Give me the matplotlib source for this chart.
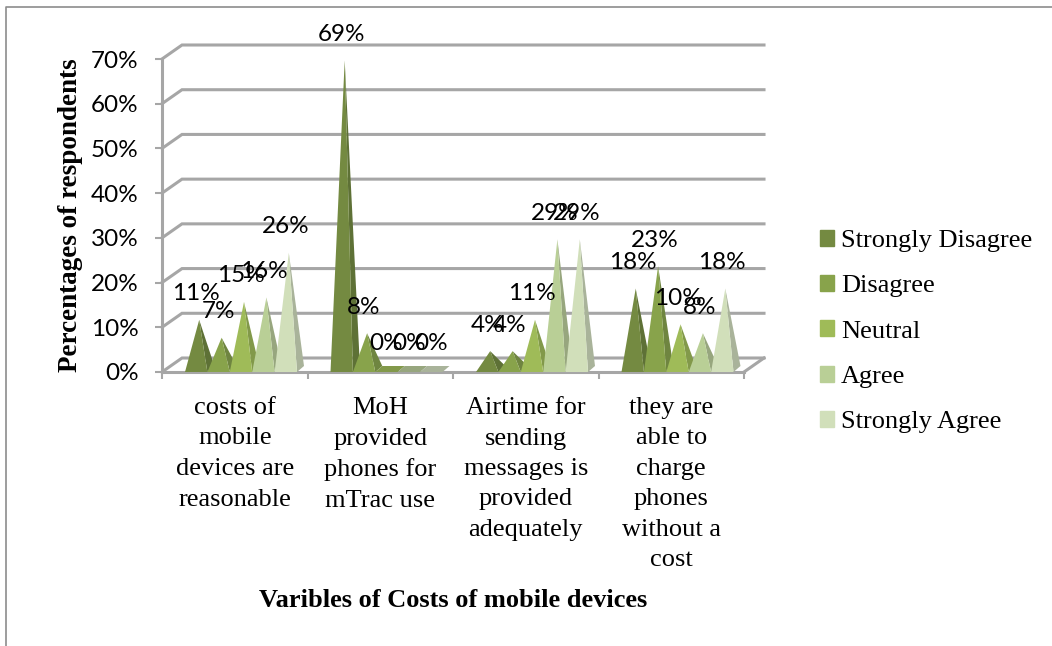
import matplotlib
matplotlib.use("Agg")
import matplotlib.pyplot as plt
from matplotlib.lines import Line2D
from matplotlib.patches import Patch, Polygon
from matplotlib.ticker import PercentFormatter

categories = [
    "costs of\nmobile\ndevices are\nreasonable",
    "MoH\nprovided\nphones for\nmTrac use",
    "Airtime for\nsending\nmessages is\nprovided\nadequately",
    "they are\nable to\ncharge\nphones\nwithout a\ncost",
]
series_names = ["Strongly Disagree", "Disagree", "Neutral", "Agree", "Strongly Agree"]
strongly_disagree = [11, 69, 4, 18]
disagree = [7, 8, 4, 23]
neutral = [15, 0, 11, 10]
agree = [16, 0, 29, 8]
strongly_agree = [26, 0, 29, 18]
series = [strongly_disagree, disagree, neutral, agree, strongly_agree]

colors = ["#748a41", "#88a34b", "#9fbb58", "#b9cf96", "#d1dfba"]
side_colors = ["#5e7136", "#6f8540", "#82994a", "#97a67e", "#a9b39a"]
grid_gray = "#a6a6a6"

fig = plt.figure(figsize=(10.52, 6.46), dpi=100)
ax = fig.add_axes([162 / 1052, (646 - 372) / 646, 582 / 1052, 313 / 646])
ax.set_xlim(0, 4)
ax.set_ylim(0, 70)

# pixel sizes turned into data units
px_x = 4 / 582
px_y = 70 / 313
wall_dx, wall_dy = 20 * px_x, 14 * px_y

# 3D looking walls and floor
for v in range(0, 80, 10):
    ax.plot([0, wall_dx, 4 + wall_dx], [v, v + wall_dy, v + wall_dy],
            color=grid_gray, lw=2.2, clip_on=False, zorder=1, solid_joinstyle="miter")
ax.plot([4 + wall_dx, 4], [wall_dy, 0], color=grid_gray, lw=2.2, clip_on=False, zorder=1)

# spikes
bar_w = 22.4 * px_x
first = 23 * px_x
depth_dx, depth_dy = 7 * px_x, 6 * px_y
for s, values in enumerate(series):
    for c, v in enumerate(values):
        x0 = c + first + s * bar_w
        x1 = x0 + bar_w
        mid = (x0 + x1) / 2
        if v == 0:
            # nothing to point at, only the flat base shows
            ax.add_patch(Polygon([(x0, 0), (x1, 0), (x1 + depth_dx, depth_dy), (x0 + depth_dx, depth_dy)],
                                 color=side_colors[s], lw=0, clip_on=False, zorder=3 + s))
        else:
            top = (mid + 3 * px_x, v + 3 * px_y)
            ax.add_patch(Polygon([(x1, 0), (x1 + depth_dx, depth_dy), top],
                                 color=side_colors[s], lw=0, clip_on=False, zorder=3 + s))
            ax.add_patch(Polygon([(x0, 0), (x1, 0), top],
                                 color=colors[s], lw=0, clip_on=False, zorder=3 + s))
        ax.text(mid, v + 29 * px_y, f"{v}%", ha="center", va="center", fontsize=17.5,
                family="Lato", color="black", clip_on=False, zorder=10)

# axes
for name in ["top", "right"]:
    ax.spines[name].set_visible(False)
for name in ["left", "bottom"]:
    ax.spines[name].set_color(grid_gray)
    ax.spines[name].set_linewidth(2.2)
ax.set_yticks(range(0, 80, 10))
ax.yaxis.set_major_formatter(PercentFormatter(decimals=0))
ax.tick_params(axis="y", length=5, width=1.5, color=grid_gray, pad=12, labelsize=17.5)
for t in ax.get_yticklabels():
    t.set_family("Lato")
ax.set_xticks(range(5))
ax.set_xticklabels([])
ax.tick_params(axis="x", which="major", length=5, width=1.5, color=grid_gray)
ax.set_xticks([0.5, 1.5, 2.5, 3.5], minor=True)
ax.set_xticklabels(categories, minor=True, family="Liberation Serif", fontsize=19,
                   linespacing=1.5)
ax.tick_params(axis="x", which="minor", length=0, pad=18)

ax.set_xlabel("Varibles of Costs of mobile devices", family="Liberation Serif",
              fontweight="bold", fontsize=19)
ax.xaxis.set_label_coords(0.5, -0.692)
ax.set_ylabel("Percentages of respondents", family="Liberation Serif",
              fontweight="bold", fontsize=19.5)
ax.yaxis.set_label_coords(-0.135, 0.5)

# legend
handles = [Patch(color=col, label=n) for col, n in zip(colors, series_names)]
fig.legend(handles=handles, loc="upper left", bbox_to_anchor=(812 / 1052, 1 - 222 / 646),
           frameon=False, prop={"family": "Liberation Serif", "size": 19},
           handlelength=0.55, handleheight=0.55, handletextpad=0.25, labelspacing=0.87,
           borderpad=0.3, borderaxespad=0)

# outer frame, only top and left show up
fig.add_artist(Line2D([6 / 1052, 6 / 1052, 1], [0, 1 - 7 / 646, 1 - 7 / 646],
                      color="#8c8c8c", lw=1.2))

fig.savefig("out.png", dpi=100)
